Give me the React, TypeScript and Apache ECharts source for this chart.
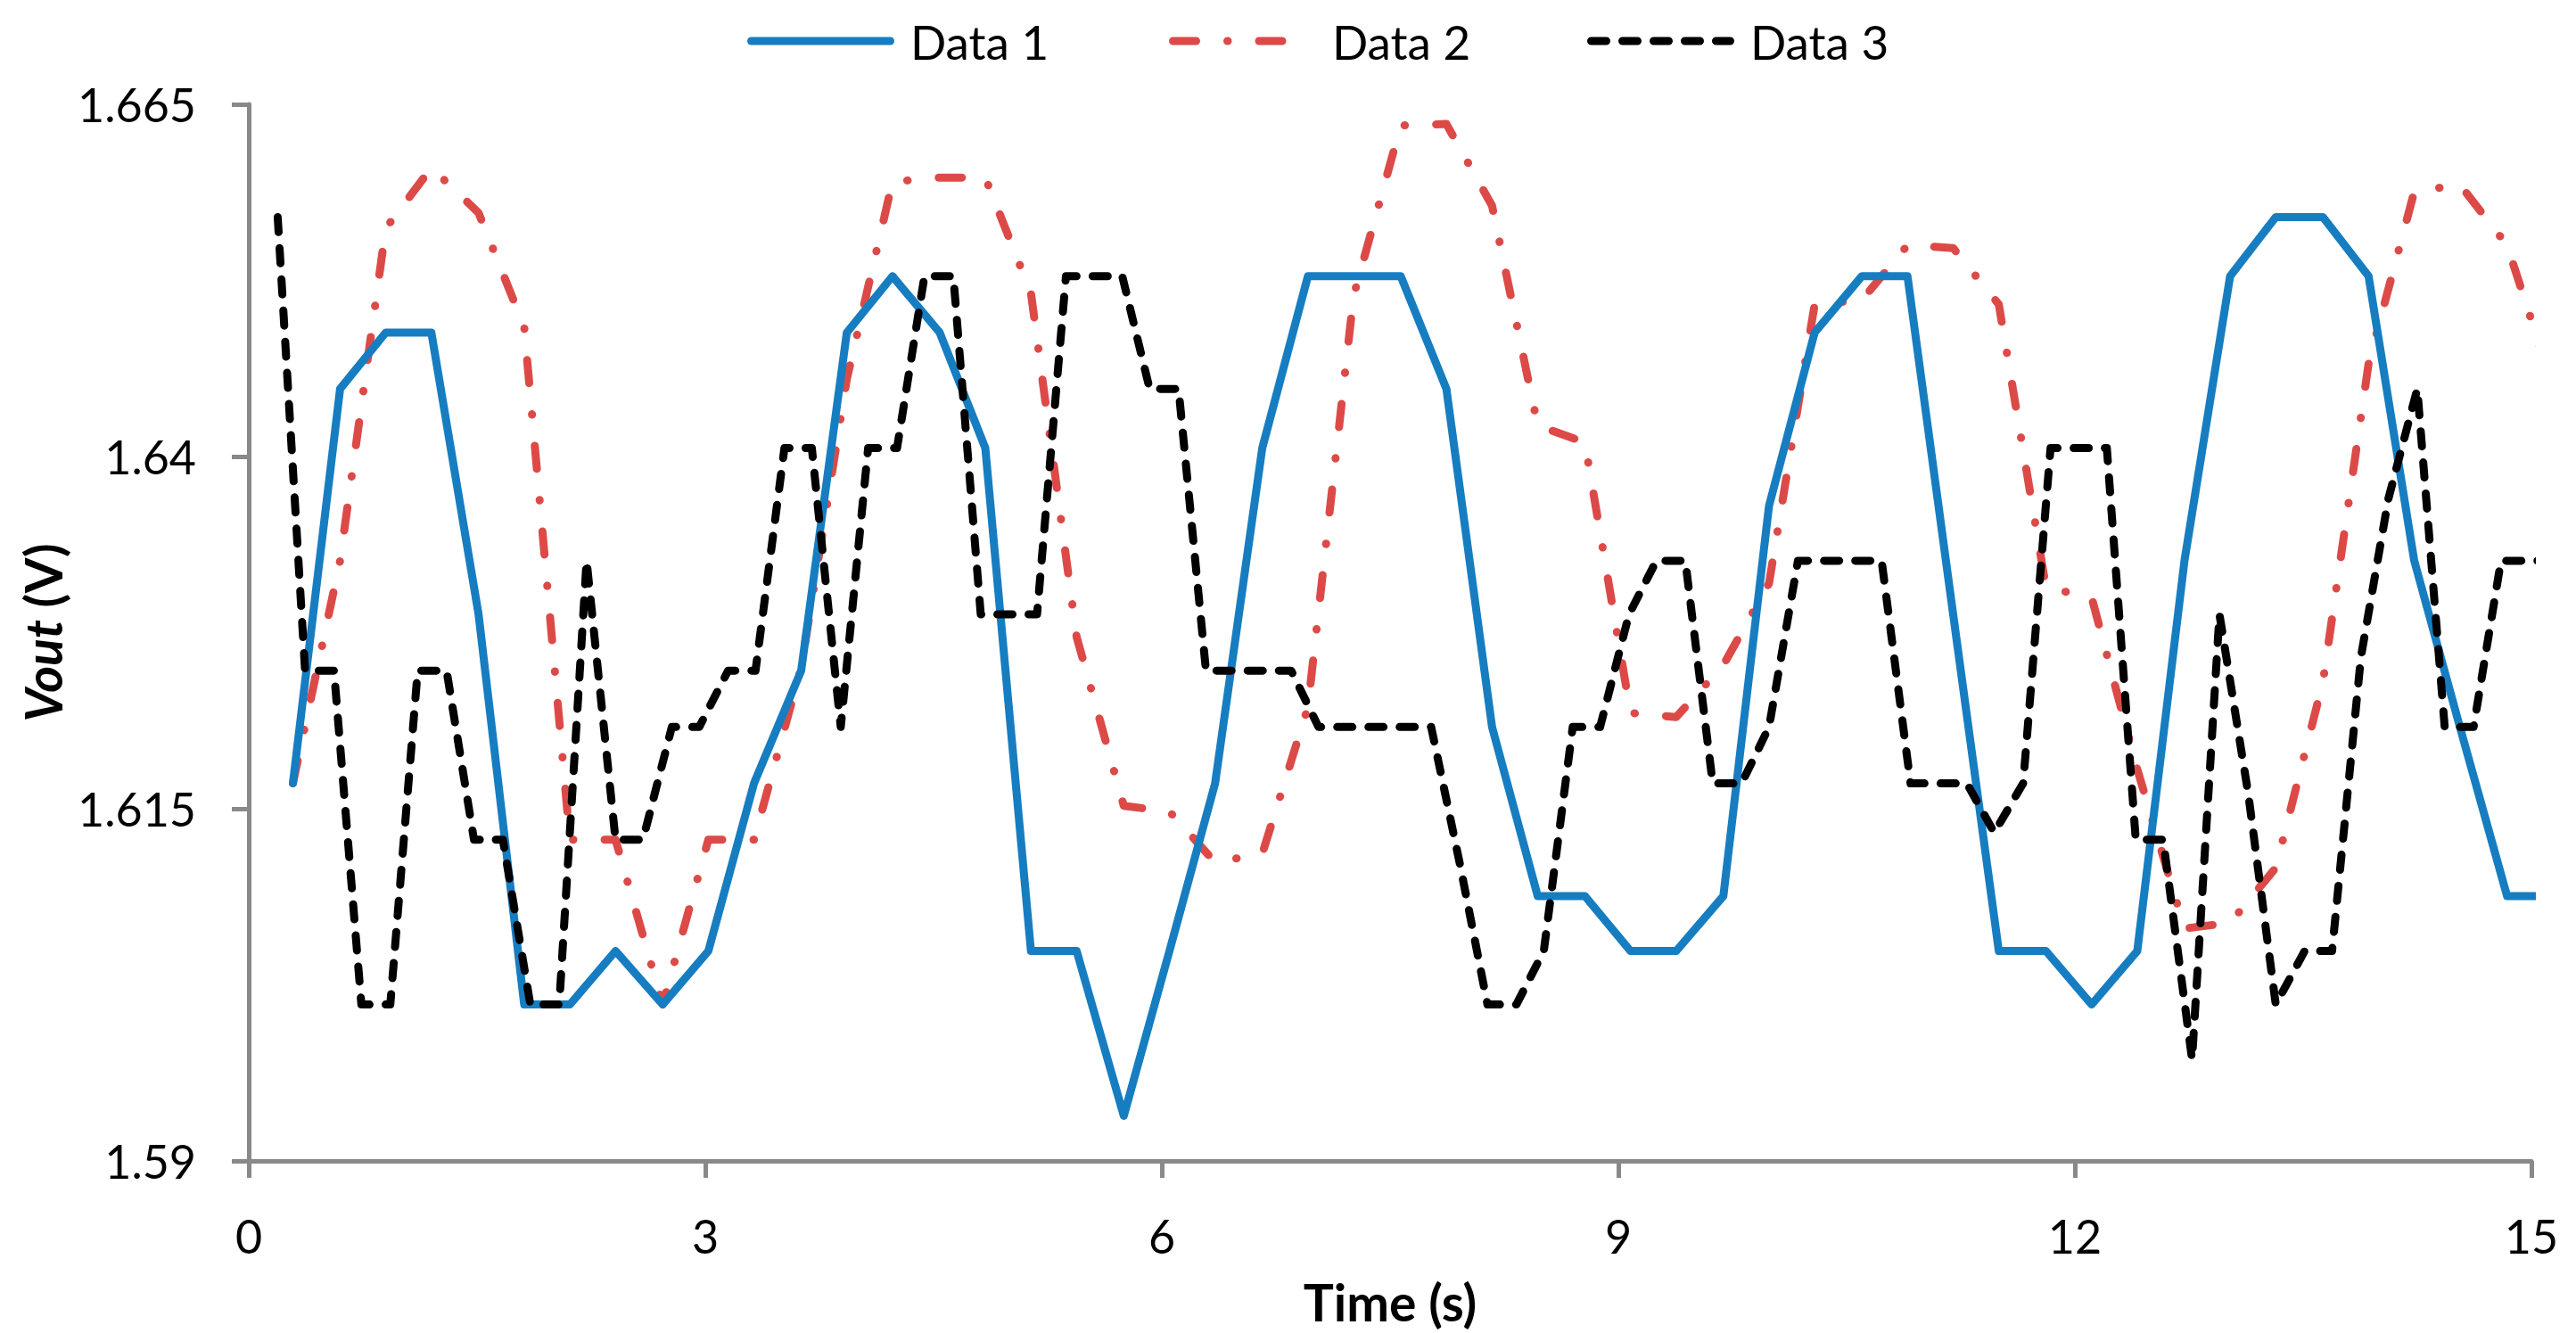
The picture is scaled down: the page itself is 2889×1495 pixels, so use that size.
import React, { useEffect, useRef } from "react";
import * as echarts from "echarts";

// ---- data ----
const seriesNames = ["Data 1", "Data 2", "Data 3"];
const seriesColors = ["#177DC1", "#DC4A48", "#000000"];

const time12 = [
  0.29, 0.6, 0.9, 1.2, 1.51, 1.81, 2.11, 2.41, 2.72, 3.02,
  3.32, 3.63, 3.93, 4.23, 4.54, 4.84, 5.14, 5.44, 5.75, 6.05,
  6.35, 6.66, 6.96, 7.26, 7.57, 7.87, 8.17, 8.47, 8.78, 9.08,
  9.38, 9.69, 9.99, 10.29, 10.6, 10.9, 11.2, 11.5, 11.81, 12.11,
  12.41, 12.72, 13.02, 13.32, 13.63, 13.93, 14.23, 14.53, 14.84, 15.14,
];

const data1 = [
  1.6168, 1.6448, 1.6488, 1.6488, 1.6288, 1.6011, 1.6011, 1.6049, 1.6011, 1.6049,
  1.6168, 1.6248, 1.6488, 1.6528, 1.6488, 1.6406, 1.6049, 1.6049, 1.5932, 1.6049,
  1.6168, 1.6406, 1.6528, 1.6528, 1.6528, 1.6448, 1.6208, 1.6088, 1.6088, 1.6049,
  1.6049, 1.6088, 1.6365, 1.6488, 1.6528, 1.6528, 1.6288, 1.6049, 1.6049, 1.6011,
  1.6049, 1.6326, 1.6528, 1.657, 1.657, 1.6528, 1.6326, 1.6208, 1.6088, 1.6088,
];

const data2 = [
  1.6168, 1.6326, 1.6562, 1.6605, 1.6573, 1.6492, 1.6128, 1.6128, 1.6011, 1.6128,
  1.6128, 1.625, 1.6455, 1.6595, 1.6598, 1.6598, 1.6516, 1.6272, 1.6152, 1.6148,
  1.6112, 1.6118, 1.6222, 1.6514, 1.6635, 1.6636, 1.6578, 1.6422, 1.641, 1.6218,
  1.6215, 1.6252, 1.631, 1.6508, 1.6511, 1.655, 1.6548, 1.6508, 1.6307, 1.63,
  1.6178, 1.6065, 1.6069, 1.6108, 1.624, 1.6466, 1.6588, 1.6593, 1.655, 1.645,
];

const time3 = [
  0.19, 0.37, 0.56, 0.74, 0.93, 1.11, 1.3, 1.48, 1.67, 1.85,
  2.04, 2.22, 2.41, 2.59, 2.78, 2.96, 3.15, 3.33, 3.52, 3.7,
  3.89, 4.07, 4.26, 4.44, 4.63, 4.81, 5.0, 5.18, 5.37, 5.55,
  5.74, 5.92, 6.11, 6.29, 6.48, 6.66, 6.85, 7.03, 7.22, 7.4,
  7.59, 7.77, 7.96, 8.14, 8.33, 8.51, 8.7, 8.88, 9.07, 9.25,
  9.44, 9.62, 9.81, 9.99, 10.18, 10.36, 10.55, 10.73, 10.92, 11.1,
  11.29, 11.47, 11.66, 11.84, 12.03, 12.21, 12.4, 12.58, 12.77, 12.95,
  13.14, 13.32, 13.51, 13.69, 13.88, 14.06, 14.25, 14.43, 14.62, 14.8,
  14.99, 15.17,
];

const data3 = [
  1.657, 1.6248, 1.6248, 1.6011, 1.6011, 1.6248, 1.6248, 1.6128, 1.6128, 1.6011,
  1.6011, 1.6326, 1.6128, 1.6128, 1.6208, 1.6208, 1.6248, 1.6248, 1.6406, 1.6406,
  1.6208, 1.6406, 1.6406, 1.6528, 1.6528, 1.6288, 1.6288, 1.6288, 1.6528, 1.6528,
  1.6528, 1.6448, 1.6448, 1.6248, 1.6248, 1.6248, 1.6248, 1.6208, 1.6208, 1.6208,
  1.6208, 1.6208, 1.611, 1.6011, 1.6011, 1.6049, 1.6208, 1.6208, 1.6288, 1.6326,
  1.6326, 1.6168, 1.6168, 1.6208, 1.6326, 1.6326, 1.6326, 1.6326, 1.6168, 1.6168,
  1.6168, 1.6133, 1.6168, 1.6406, 1.6406, 1.6406, 1.6128, 1.6128, 1.5972, 1.6288,
  1.616, 1.6011, 1.6049, 1.6049, 1.6258, 1.637, 1.6448, 1.6208, 1.6208, 1.6326,
  1.6326, 1.6326,
];

const xTicks = [0, 3, 6, 9, 12, 15];
const yTicks = [1.59, 1.615, 1.64, 1.665];

const xTitle = "Time (s)";
const yTitleItalic = "Vout";
const yTitleRest = "(V)";

const FONT = "Lato";
const AXIS_GREY = "#898989";
const LINE_W = 9;
const dashes: (number[] | null)[] = [null, [26, 35, 0.5, 35], [17, 18]];

// legend layout (pixels)
const legendLeft = [838, 1311, 1780];
const legendLineLen = 165;
const legendY = 46;
const legendTextGap = 18;

export default function App() {
  const ref = useRef<HTMLDivElement>(null);

  useEffect(() => {
    if (!ref.current) return;
    const chart = echarts.init(ref.current, undefined, { renderer: "svg" });

    const pairs = (xs: number[], ys: number[]) => ys.map((y, i) => [xs[i], y]);

    const legendGraphics: any[] = [];
    seriesNames.forEach((name, i) => {
      const x0 = legendLeft[i] + LINE_W / 2;
      legendGraphics.push({
        type: "line",
        silent: true,
        shape: { x1: x0, y1: legendY, x2: x0 + legendLineLen - LINE_W, y2: legendY },
        style: {
          stroke: seriesColors[i],
          lineWidth: LINE_W,
          lineCap: "round",
          lineDash: dashes[i] || undefined,
        },
      });
      legendGraphics.push({
        type: "text",
        silent: true,
        x: legendLeft[i] + legendLineLen + legendTextGap,
        y: legendY,
        style: {
          text: name,
          fontFamily: FONT,
          fontSize: 53,
          fill: "#000",
          verticalAlign: "middle",
          align: "left",
        },
      });
    });

    const option: any = {
      animation: false,
      backgroundColor: "#ffffff",
      textStyle: { fontFamily: FONT },
      legend: { show: false, data: seriesNames },
      graphic: legendGraphics,
      grid: { left: 279, right: 50, top: 117, bottom: 193 },
      xAxis: {
        type: "value",
        min: xTicks[0],
        max: xTicks[xTicks.length - 1],
        interval: 3,
        name: xTitle,
        nameLocation: "middle",
        nameGap: 158,
        nameTextStyle: {
          fontFamily: FONT,
          fontWeight: "bold",
          fontSize: 57,
          color: "#000",
          verticalAlign: "middle",
        },
        axisLine: { show: true, lineStyle: { color: AXIS_GREY, width: 5 } },
        axisTick: { show: true, length: 19, lineStyle: { color: AXIS_GREY, width: 5 } },
        axisLabel: {
          fontFamily: FONT,
          fontSize: 52,
          color: "#000",
          margin: 58,
          customValues: xTicks,
        },
        splitLine: { show: false },
      },
      yAxis: {
        type: "value",
        min: yTicks[0],
        max: yTicks[yTicks.length - 1],
        name: `{i|${yTitleItalic}} {n|${yTitleRest}}`,
        nameLocation: "middle",
        nameRotate: 90,
        nameGap: 224,
        nameTextStyle: {
          fontFamily: FONT,
          fontWeight: "bold",
          fontSize: 57,
          color: "#000",
          verticalAlign: "middle",
          rich: {
            i: { fontFamily: FONT, fontWeight: "bold", fontStyle: "italic", fontSize: 57, color: "#000" },
            n: { fontFamily: FONT, fontWeight: "bold", fontSize: 57, color: "#000" },
          },
        },
        axisLine: { show: true, lineStyle: { color: AXIS_GREY, width: 5 } },
        axisTick: {
          show: true,
          length: 19,
          lineStyle: { color: AXIS_GREY, width: 5 },
          customValues: yTicks,
        },
        axisLabel: {
          fontFamily: FONT,
          fontSize: 52,
          color: "#000",
          margin: 59,
          customValues: yTicks,
          formatter: (v: number) => String(+v.toFixed(3)),
        },
        splitLine: { show: false },
      },
      series: [
        {
          name: seriesNames[0],
          type: "line",
          symbol: "none",
          data: pairs(time12, data1),
          lineStyle: { color: seriesColors[0], width: LINE_W, cap: "round", join: "round" },
          itemStyle: { color: seriesColors[0] },
          z: 3,
        },
        {
          name: seriesNames[1],
          type: "line",
          symbol: "none",
          data: pairs(time12, data2),
          lineStyle: {
            color: seriesColors[1],
            width: LINE_W,
            type: dashes[1],
            cap: "round",
            join: "round",
          },
          itemStyle: { color: seriesColors[1] },
          z: 2,
        },
        {
          name: seriesNames[2],
          type: "line",
          symbol: "none",
          data: pairs(time3, data3),
          lineStyle: { color: seriesColors[2], width: LINE_W, type: dashes[2], cap: "round", join: "round" },
          itemStyle: { color: seriesColors[2] },
          z: 4,
        },
      ],
    };

    chart.setOption(option);
    return () => chart.dispose();
  }, []);

  return (
    <div
      ref={ref}
      style={{ position: "fixed", left: 0, top: 0, width: 2889, height: 1495, background: "#fff" }}
    />
  );
}
